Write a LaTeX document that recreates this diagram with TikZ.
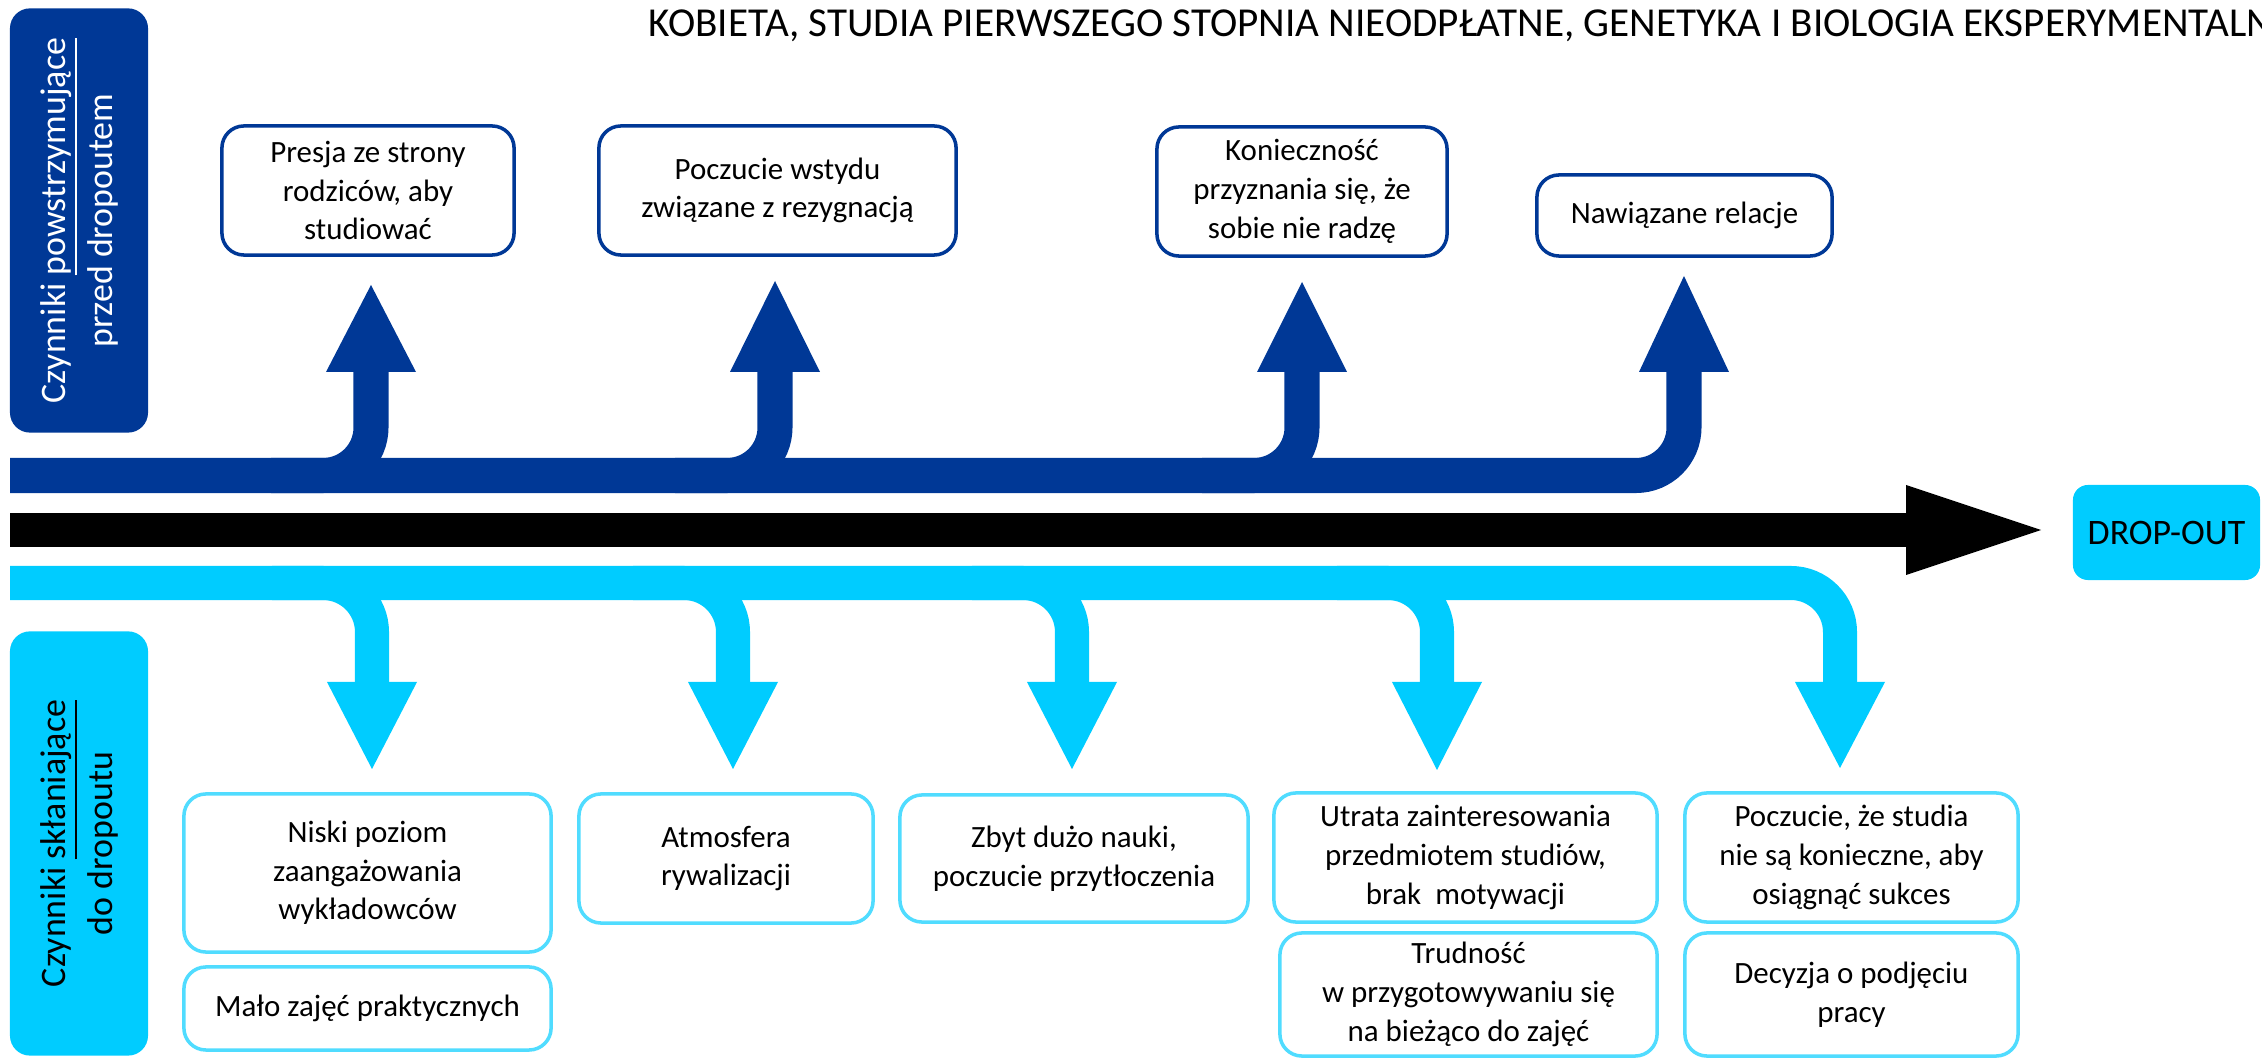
\documentclass[tikz,border=0pt]{standalone}
\usepackage{fontspec}
\setmainfont{Carlito}
\usetikzlibrary{calc}

\definecolor{darkblue}{RGB}{0,56,150}
\definecolor{lightblue}{RGB}{0,204,255}
\definecolor{boxblue}{RGB}{80,220,255}

\tikzset{
  % For the thick bands of the time line.
  dark band/.style={
    draw=darkblue,
    line width=0.35cm,
    rounded corners=0.48cm},
  light band/.style={
    draw=lightblue,
    line width=0.34cm,
    rounded corners=0.49cm},
  time band/.style={
    draw=black,
    line width=0.34cm},
%
  % For factors above the time line.
  up box/.style={
    draw=darkblue,
    line width=1pt,
    rounded corners=0.22cm,
    align=center,
    inner sep=0pt,
    font=\fontsize{8.8}{11}\selectfont},
%
  % For factors below the time line.
  down box/.style={
    up box,
    draw=boxblue},
%
  % For the rotated labels on the left.
  side box/.style={
    rotate=90,
    rounded corners=0.2cm,
    minimum width=4.24cm,
    minimum height=1.38cm,
    align=center,
    font=\fontsize{10.2}{13.4}\selectfont},
}

\begin{document}
\begin{tikzpicture}[x=0.01cm, y=-0.01cm]
  % Pixel grid, y pointing down.
  \useasboundingbox (0,0) rectangle (2262,1058);

  \node[anchor=base west, inner sep=0pt, font=\fontsize{11.7}{14}\selectfont] (title) at (648,37)
    {KOBIETA, STUDIA PIERWSZEGO STOPNIA NIEODPŁATNE, GENETYKA I BIOLOGIA EKSPERYMENTALNA};

  \node[side box, fill=darkblue, text=white] (stop) at (79,220.5)
    {Czynniki \underline{powstrzymujące}\\przed dropoutem};
  \node[side box, fill=lightblue] (push) at (79,843.5)
    {Czynniki \underline{skłaniające}\\do dropoutu};

  \node[fill=lightblue, rounded corners=0.15cm, minimum width=1.87cm,
        minimum height=0.95cm, font=\fontsize{10.2}{12}\selectfont] (drop) at (2166.5,532.5)
    {DROP-OUT};

  % Above the line.
  \node[up box, minimum width=2.92cm, minimum height=1.29cm] (presja) at (368,190.5)
    {Presja ze strony\\rodziców, aby\\studiować};
  \node[up box, minimum width=3.57cm, minimum height=1.29cm] (wstyd) at (777.5,190.5)
    {Poczucie wstydu\\związane z rezygnacją};
  \node[up box, minimum width=2.90cm, minimum height=1.29cm] (przyznanie) at (1302,191.5)
    {Konieczność\\przyznania się, że\\sobie nie radzę};
  \node[up box, minimum width=2.95cm, minimum height=0.81cm] (relacje) at (1684.5,215.5)
    {Nawiązane relacje};

  % Below the line.
  \node[down box, minimum width=3.67cm, minimum height=1.58cm] (niski) at (367.5,873)
    {Niski poziom\\zaangażowania\\wykładowców};
  \node[down box, minimum width=3.67cm, minimum height=0.83cm] (malo) at (367.5,1008.5)
    {Mało zajęć praktycznych};
  \node[down box, minimum width=2.94cm, minimum height=1.29cm] (atmosfera) at (726,858.5)
    {Atmosfera\\rywalizacji};
  \node[down box, minimum width=3.48cm, minimum height=1.27cm] (nauka) at (1074,858.5)
    {Zbyt dużo nauki,\\poczucie przytłoczenia};
  \node[down box, minimum width=3.83cm, minimum height=1.29cm] (utrata) at (1465.5,857.5)
    {Utrata zainteresowania\\przedmiotem studiów,\\brak\ \ motywacji};
  \node[down box, minimum width=3.77cm, minimum height=1.23cm] (trudnosc) at (1468.5,994.5)
    {Trudność\\w przygotowywaniu się\\na bieżąco do zajęć};
  \node[down box, minimum width=3.33cm, minimum height=1.29cm] (zbedne) at (1851.5,857.5)
    {Poczucie, że studia\\nie są konieczne, aby\\osiągnąć sukces};
  \node[down box, minimum width=3.33cm, minimum height=1.23cm] (praca) at (1851.5,994.5)
    {Decyzja o podjęciu\\pracy};

  % Time line.
  \coordinate (t0) at (1906,530);
  \draw[time band] (10,530) -- (t0);
  \fill (t0) ++(0,-45) -- ++(135,45) -- ++(-135,45) -- cycle;

  % Upward branches.
  \coordinate (u1) at (371,372);
  \coordinate (u2) at (775,372);
  \coordinate (u3) at (1302,372);
  \coordinate (u4) at (1684,372);
  \draw[dark band] (10,475.5) -- (1684,475.5) -- (u4);
  \draw[dark band] (271,475.5) -- (371,475.5) -- (u1);
  \draw[dark band] (675,475.5) -- (775,475.5) -- (u2);
  \draw[dark band] (1202,475.5) -- (1302,475.5) -- (u3);
  \fill[darkblue] (u1) ++(-45,0) -- ++(45,-87) -- ++(45,87) -- cycle;
  \fill[darkblue] (u2) ++(-45,0) -- ++(45,-91) -- ++(45,91) -- cycle;
  \fill[darkblue] (u3) ++(-45,0) -- ++(45,-90) -- ++(45,90) -- cycle;
  \fill[darkblue] (u4) ++(-45,0) -- ++(45,-96) -- ++(45,96) -- cycle;

  % Downward branches.
  \coordinate (d1) at (372,682);
  \coordinate (d2) at (733,682);
  \coordinate (d3) at (1072,682);
  \coordinate (d4) at (1437,682);
  \coordinate (d5) at (1840,682);
  \draw[light band] (10,583) -- (1840,583) -- (d5);
  \draw[light band] (272,583) -- (372,583) -- (d1);
  \draw[light band] (633,583) -- (733,583) -- (d2);
  \draw[light band] (972,583) -- (1072,583) -- (d3);
  \draw[light band] (1337,583) -- (1437,583) -- (d4);
  \fill[lightblue] (d1) ++(-45,0) -- ++(45,87) -- ++(45,-87) -- cycle;
  \fill[lightblue] (d2) ++(-45,0) -- ++(45,87) -- ++(45,-87) -- cycle;
  \fill[lightblue] (d3) ++(-45,0) -- ++(45,87) -- ++(45,-87) -- cycle;
  \fill[lightblue] (d4) ++(-45,0) -- ++(45,88) -- ++(45,-88) -- cycle;
  \fill[lightblue] (d5) ++(-45,0) -- ++(45,86) -- ++(45,-86) -- cycle;
\end{tikzpicture}
\end{document}
